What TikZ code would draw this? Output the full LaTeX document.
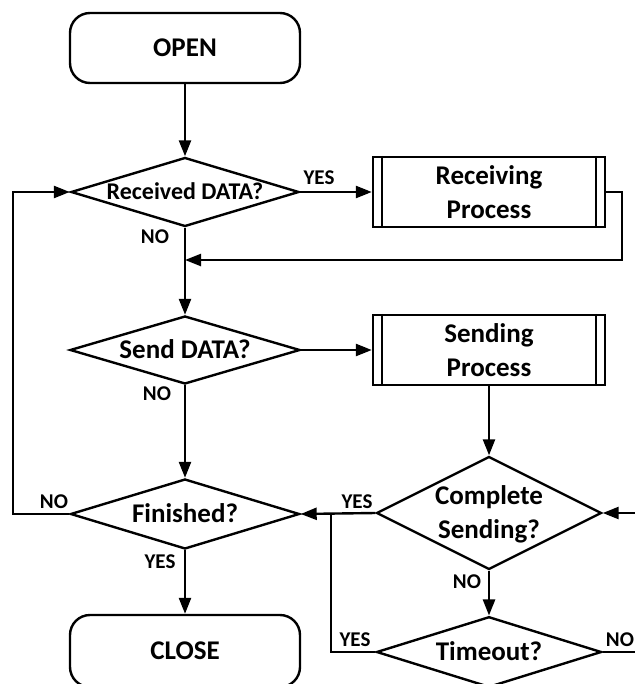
\documentclass[tikz,border=0pt]{standalone}
\usepackage{fontspec}
\setmainfont{Carlito}
\usepackage{tikz}
\usetikzlibrary{arrows.meta, shapes.geometric, positioning}
\tikzset{>={Triangle[length=8pt,width=6pt]}}

\begin{document}
\begin{tikzpicture}[x=0.5pt, y=-0.5pt, line width=1.2pt,
  term/.style={draw, rounded corners=10pt, minimum width=115pt, minimum height=35pt, font=\bfseries\fontsize{13.5}{17}\selectfont},
  proc/.style={draw, minimum width=116pt, minimum height=35pt, align=center, font=\bfseries\fontsize{13.5}{17}\selectfont},
  decide/.style={draw, diamond, aspect=3.5, inner sep=0pt, text height=8.7pt, text depth=0pt, font=\bfseries\fontsize{13.5}{17}\selectfont},
  lbl/.style={inner sep=0pt, text height=6.8pt, text depth=0pt, font=\bfseries\fontsize{10.5}{12}\selectfont}]

\useasboundingbox (0,0) rectangle (634,684);

\node[term] (open) at (185,48) {OPEN};
\node[decide, font=\bfseries\fontsize{12}{14}\selectfont, text height=7.7pt, minimum width=114pt, minimum height=34.5pt] (rcv) at (185,192) {Received DATA?};
\node[proc] (rproc) at (489,192) {Receiving\\Process};
\node[decide, minimum width=115pt, minimum height=34pt] (send) at (185,350) {Send DATA?};
\node[proc] (sproc) at (489,350) {Sending\\Process};
\node[decide, minimum width=114.5pt, minimum height=35pt] (fin) at (185,514) {Finished?};
\node[decide, aspect=2, text height=25.7pt, align=center, minimum width=112.5pt, minimum height=56.5pt] (cmp) at (489,513) {Complete\\Sending?};
\node[decide, aspect=2, minimum width=112.5pt, minimum height=35pt] (tmo) at (489,652) {Timeout?};
\node[term, minimum height=36pt] (close) at (185,651) {CLOSE};

\coordinate (lcorner) at (13,192);
\coordinate (rcorner) at (622,260);
\coordinate (rjoin) at (185,260);
\coordinate (cin) at (640,513);
\coordinate (tjoin) at (331,513);
\coordinate (cout) at (640,652);

\foreach \b in {rproc, sproc} {
  \draw ([xshift=5pt]\b.north west) -- ([xshift=5pt]\b.south west);
  \draw ([xshift=-5pt]\b.north east) -- ([xshift=-5pt]\b.south east);
}

\node[lbl] (yes1) at (319,178) {YES};  \node[lbl] (no1) at (155,237) {NO};
\node[lbl] (no2) at (157,394) {NO};
\node[lbl] (no3) at (54,502) {NO};     \node[lbl] (yes2) at (160,562) {YES};
\node[lbl] (yes3) at (357,502) {YES};  \node[lbl] (no4) at (467,582) {NO};
\node[lbl] (yes4) at (355,640) {YES};  \node[lbl] (no5) at (620,640) {NO};

\draw [->] (open) -- (rcv);
\draw [->] (rcv.east) -- (rproc.west);
\draw [->] (rcv.south) -- (send.north);
\draw [->] (rproc.east) -| (rcorner) -- (rjoin);
\draw [->] (send.east) -- (sproc.west);
\draw [->] (send.south) -- (fin.north);
\draw [->] (sproc.south) -- (cmp.north);
\draw [->] (cin) -- (cmp.east);
\draw [->] (cmp.west) -- (fin.east);
\draw [->] (cmp.south) -- (tmo.north);
\draw (tmo.west) -| (tjoin);
\draw (tmo.east) -- (cout);
\draw [->] (fin.west) -| (lcorner) -- (rcv.west);
\draw [->] (fin.south) -- (close.north);

\end{tikzpicture}
\end{document}
